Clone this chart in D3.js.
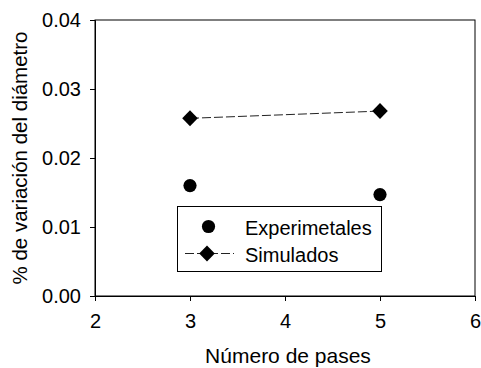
<!DOCTYPE html>
<html>
<head>
<meta charset="utf-8">
<script src="https://cdn.jsdelivr.net/npm/d3@7"></script>
<style>
  html, body { margin: 0; padding: 0; background: #fff; }
  svg { display: block; }
  text { font-family: "Liberation Sans", Arial, sans-serif; fill: #000; }
</style>
</head>
<body>
<svg id="chart" width="481" height="368"></svg>
<script>
// ---- data ----
const passes = [3, 5];
const experimentales = [0.0160, 0.0147];
const simulados = [0.02575, 0.0268];
const xTicks = [2, 3, 4, 5, 6];
const yTicks = [0, 0.01, 0.02, 0.03, 0.04];
const seriesNames = ["Experimetales", "Simulados"];
const xTitle = "Número de pases";
const yTitle = "% de variación del diámetro";

// ---- layout ----
const W = 481, H = 368;
const m = { left: 95, right: 6, top: 20, bottom: 72 };
const svg = d3.select("#chart");

const x = d3.scaleLinear().domain([2, 6]).range([m.left, W - m.right]);
const y = d3.scaleLinear().domain([0, 0.04]).range([H - m.bottom, m.top]);

// frame
svg.append("rect")
  .attr("x", x(2)).attr("y", y(0.04))
  .attr("width", x(6) - x(2)).attr("height", y(0) - y(0.04))
  .attr("fill", "none").attr("stroke", "#000").attr("stroke-width", 1);

// x axis
const xAxis = svg.append("g")
  .attr("transform", `translate(0,${y(0)})`)
  .call(d3.axisBottom(x).tickValues(xTicks).tickFormat(d3.format("d")).tickSize(5).tickPadding(13));
// y axis
const yAxis = svg.append("g")
  .attr("transform", `translate(${x(2)},0)`)
  .call(d3.axisLeft(y).tickValues(yTicks).tickFormat(d3.format(".2f")).tickSize(5).tickPadding(9));

[xAxis, yAxis].forEach(g => {
  g.select(".domain").attr("stroke", "#000");
  g.selectAll(".tick line").attr("stroke", "#000");
  g.selectAll(".tick text").style("font-size", "20px").attr("fill", "#000")
    .style("font-family", '"Liberation Sans", Arial, sans-serif');
});

// titles
svg.append("text")
  .attr("x", (x(2) + x(6)) / 2 + 3).attr("y", 363)
  .attr("text-anchor", "middle").style("font-size", "21px")
  .text(xTitle);
svg.append("text")
  .attr("transform", `translate(27,${(y(0) + y(0.04)) / 2}) rotate(-90)`)
  .attr("text-anchor", "middle").style("font-size", "20.5px")
  .text(yTitle);

// diamond path helper
function diamond(cx, cy, hw, hh) {
  return `M${cx},${cy - hh}L${cx + hw},${cy}L${cx},${cy + hh}L${cx - hw},${cy}Z`;
}

// simulated line (dashed)
const line = d3.line().x((d, i) => x(passes[i])).y(d => y(d));
svg.append("path")
  .datum(simulados)
  .attr("d", line)
  .attr("fill", "none").attr("stroke", "#222").attr("stroke-width", 1)
  .attr("stroke-dasharray", "9,3");

svg.selectAll(".sim").data(simulados).enter().append("path")
  .attr("class", "sim")
  .attr("d", (d, i) => diamond(x(passes[i]), y(d), 7.8, 8))
  .attr("fill", "#000");

// experimental points
svg.selectAll(".exp").data(experimentales).enter().append("circle")
  .attr("class", "exp")
  .attr("cx", (d, i) => x(passes[i])).attr("cy", d => y(d))
  .attr("r", 6.6).attr("fill", "#000");

// legend
const lg = svg.append("g");
lg.append("rect")
  .attr("x", 177.5).attr("y", 206.5).attr("width", 204).attr("height", 65)
  .attr("fill", "#fff").attr("stroke", "#000").attr("stroke-width", 1);
lg.append("circle").attr("cx", 208.5).attr("cy", 226.5).attr("r", 6.6).attr("fill", "#000");
lg.append("line")
  .attr("x1", 185).attr("x2", 234).attr("y1", 253.5).attr("y2", 253.5)
  .attr("stroke", "#222").attr("stroke-width", 1).attr("stroke-dasharray", "9,3");
lg.append("path").attr("d", diamond(207, 253.5, 7.8, 8)).attr("fill", "#000");
lg.selectAll(".lt").data(seriesNames).enter().append("text")
  .attr("class", "lt")
  .attr("x", 245).attr("y", (d, i) => 234.5 + i * 27)
  .style("font-size", "20px")
  .text(d => d);
</script>
</body>
</html>
